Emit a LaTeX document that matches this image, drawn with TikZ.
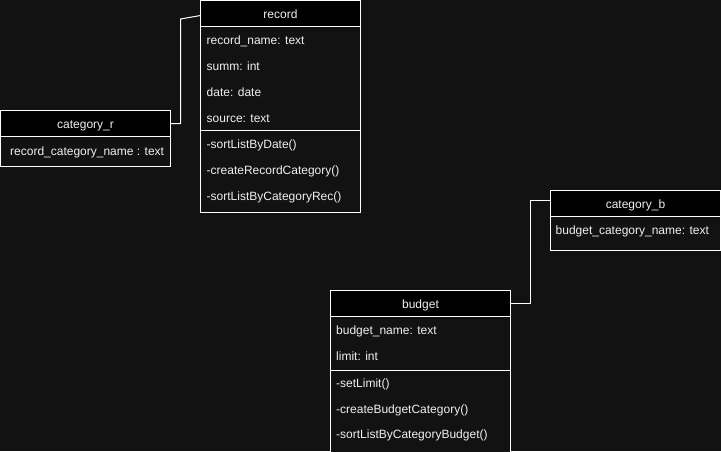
\documentclass[tikz,border=0pt]{standalone}
\usepackage{fontspec}
\setmainfont{Liberation Sans}
\definecolor{bgc}{HTML}{121212}
\definecolor{txc}{HTML}{F0F0F0}
\begin{document}
\begin{tikzpicture}[x=1pt,y=-1pt,
  hdr/.style={draw=white, line width=1pt, fill=black, text=txc, inner sep=0pt, outer sep=0pt,
    minimum height=26pt, text height=12pt, text depth=2pt, anchor=north west,
    font=\fontsize{12}{14}\selectfont},
  bodybox/.style={draw=white, line width=1pt, fill=bgc, inner sep=0pt, outer sep=0pt, anchor=north west},
  attr/.style={text=txc, inner sep=0pt, anchor=base west, font=\fontsize{12}{14}\selectfont},
  sepline/.style={draw=white, line width=1pt},
  conn/.style={draw=white, line width=1pt}
]
\fill[bgc] (0,0) rectangle (721,451);
\useasboundingbox (0,0) rectangle (721,451);
\clip (0,0) rectangle (721,451);

% record
\node[hdr, minimum width=160pt] (rec) at (200.5,0.5) {record};
\node[bodybox, minimum width=160pt, minimum height=186pt] (recbody) at (rec.south west) {};
\draw[sepline] (recbody.west |- {(0,130.5)}) -- (recbody.east |- {(0,130.5)});
\node[attr] (r1) at (206.5,44) {record\_name: text};
\node[attr] (r2) at (206.5,70) {summ: int};
\node[attr] (r3) at (206.5,96) {date: date};
\node[attr] (r4) at (206.5,122) {source: text};
\node[attr] (r5) at (206.5,148) {-sortListByDate()};
\node[attr] (r6) at (206.5,174) {-createRecordCategory()};
\node[attr] (r7) at (206.5,200) {-sortListByCategoryRec()};

% category_r
\node[hdr, minimum width=170pt] (catr) at (0.5,110.5) {category\_r};
\node[bodybox, minimum width=170pt, minimum height=30pt] (catrbody) at (catr.south west) {};
\node[attr] (cr1) at (10,155) {record\_category\_name : text};

% category_b
\node[hdr, minimum width=170pt] (catb) at (550.5,190.5) {category\_b};
\node[bodybox, minimum width=170pt, minimum height=34pt] (catbbody) at (catb.south west) {};
\node[attr] (cb1) at (555.5,234) {budget\_category\_name: text};

% budget
\node[hdr, minimum width=180pt] (bud) at (330.5,290.5) {budget};
\node[bodybox, minimum width=180pt, minimum height=136pt] (budbody) at (bud.south west) {};
\draw[sepline] (budbody.west |- {(0,370.5)}) -- (budbody.east |- {(0,370.5)});
\node[attr] (b1) at (336,334) {budget\_name: text};
\node[attr] (b2) at (336,360) {limit: int};
\node[attr] (b3) at (336,387) {-setLimit()};
\node[attr] (b4) at (336,413) {-createBudgetCategory()};
\node[attr] (b5) at (336,438) {-sortListByCategoryBudget()};

% connectors
\coordinate (k1) at (180.5,19);
\draw[conn] (catr.east) -- (catr.east -| k1) -- (k1) -- (rec.west |- {(0,15.5)});
\coordinate (k2) at (530.5,200);
\draw[conn] (bud.east) -- (bud.east -| k2) -- (k2) -- (catb.west |- k2);
\end{tikzpicture}
\end{document}
